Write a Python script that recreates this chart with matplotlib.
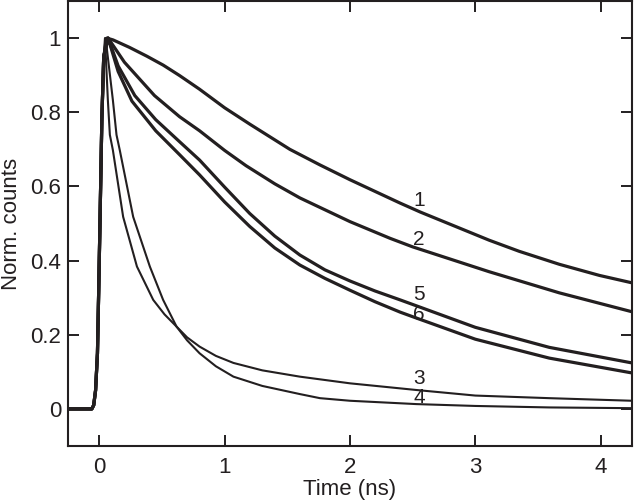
import matplotlib
matplotlib.use("Agg")
import matplotlib.pyplot as plt

plt.rcParams['font.family'] = ['Liberation Sans', 'DejaVu Sans']

# Shared instrument rise
rise_t = [-0.25, -0.06, -0.045, -0.03, -0.015, -0.005, 0.005, 0.02, 0.035]
rise_v = [0.0, 0.0, 0.01, 0.05, 0.15, 0.32, 0.5, 0.78, 0.95]

# Decays (time in ns, normalized counts)
c1_t = [0.06, 0.11, 0.24, 0.38, 0.51, 0.64, 0.80, 1.00, 1.20, 1.52, 1.76, 2.00, 2.40, 2.56, 3.11, 3.35, 3.67, 3.99, 4.25]
c1_v = [1.00, 0.995, 0.975, 0.951, 0.927, 0.899, 0.862, 0.812, 0.768, 0.700, 0.658, 0.618, 0.555, 0.531, 0.455, 0.425, 0.390, 0.360, 0.340]

c2_t = [0.07, 0.20, 0.44, 0.64, 0.80, 1.00, 1.17, 1.40, 1.60, 2.00, 2.32, 2.50, 3.11, 3.67, 4.25]
c2_v = [1.00, 0.935, 0.845, 0.788, 0.750, 0.697, 0.656, 0.607, 0.569, 0.505, 0.460, 0.437, 0.370, 0.313, 0.262]

c3_t = [0.045, 0.068, 0.084, 0.108, 0.19, 0.30, 0.43, 0.52, 0.616, 0.70, 0.80, 0.93, 1.07, 1.30, 1.60, 2.00, 2.53, 3.00, 3.59, 4.25]
c3_v = [1.00, 0.833, 0.739, 0.698, 0.518, 0.384, 0.294, 0.255, 0.222, 0.193, 0.168, 0.143, 0.124, 0.104, 0.087, 0.069, 0.051, 0.036, 0.029, 0.022]

c4_t = [0.05, 0.108, 0.137, 0.163, 0.27, 0.403, 0.509, 0.616, 0.70, 0.80, 0.93, 1.07, 1.30, 1.60, 1.76, 2.00, 2.53, 3.00, 3.59, 4.25]
c4_v = [1.00, 0.833, 0.739, 0.698, 0.518, 0.384, 0.294, 0.222, 0.185, 0.150, 0.115, 0.087, 0.062, 0.040, 0.029, 0.022, 0.013, 0.008, 0.004, 0.002]

c5_t = [0.07, 0.15, 0.283, 0.45, 0.642, 0.80, 1.00, 1.20, 1.40, 1.60, 1.80, 2.00, 2.20, 2.40, 2.53, 3.00, 3.59, 4.25]
c5_v = [1.00, 0.925, 0.845, 0.78, 0.72, 0.671, 0.598, 0.527, 0.466, 0.415, 0.375, 0.345, 0.318, 0.294, 0.278, 0.220, 0.166, 0.124]

c6_t = [0.07, 0.15, 0.26, 0.45, 0.642, 0.80, 1.00, 1.20, 1.40, 1.60, 1.80, 2.00, 2.20, 2.40, 2.53, 3.00, 3.59, 4.25]
c6_v = [1.00, 0.91, 0.83, 0.75, 0.685, 0.631, 0.558, 0.492, 0.434, 0.388, 0.352, 0.320, 0.289, 0.261, 0.245, 0.188, 0.137, 0.097]

labels = ['1', '2', '3', '4', '5', '6']
label_x = [2.55, 2.55, 2.55, 2.55, 2.55, 2.55]
label_y = [0.563, 0.456, 0.083, 0.030, 0.308, 0.255]

x_ticks = [0, 1, 2, 3, 4]
x_ticklabels = ['0', '1', '2', '3', '4']
y_ticks = [0, 0.2, 0.4, 0.6, 0.8, 1.0]
y_ticklabels = ['0', '0.2', '0.4', '0.6', '0.8', '1']

col = '#231f20'
fs = 16

fig = plt.figure(figsize=(6.34, 5.01), dpi=100)
ax = fig.add_axes([68/634, 55/501, 564/634, 445/501])

curves = [(c1_t, c1_v, 2.3), (c2_t, c2_v, 2.3), (c3_t, c3_v, 1.5),
          (c4_t, c4_v, 1.5), (c5_t, c5_v, 2.3), (c6_t, c6_v, 2.3)]
for t, v, lw in curves:
    ax.plot(list(rise_t) + list(t), list(rise_v) + list(v), color=col, lw=lw,
            solid_joinstyle='round')

for s, xx, yy in zip(labels, label_x, label_y):
    ax.text(xx, yy, s, ha='center', va='center', fontsize=15, color=col)

ax.set_xlim(-0.25, 4.25)
ax.set_ylim(-0.1, 1.1)
ax.set_xticks(x_ticks)
ax.set_xticklabels(x_ticklabels)
ax.set_yticks(y_ticks)
ax.set_yticklabels(y_ticklabels)
ax.tick_params(axis='both', direction='in', length=8, width=1.4, color=col,
               labelsize=fs, labelcolor=col, top=True, right=True)
ax.tick_params(axis='x', pad=8.0)
ax.tick_params(axis='y', pad=5)
for sp in ax.spines.values():
    sp.set_linewidth(1.5)
    sp.set_color(col)

ax.set_xlabel('Time (ns)', fontsize=fs, color=col, labelpad=1)
ax.set_ylabel('Norm. counts', fontsize=fs, color=col, labelpad=6)

fig.savefig('out.png', dpi=100)
